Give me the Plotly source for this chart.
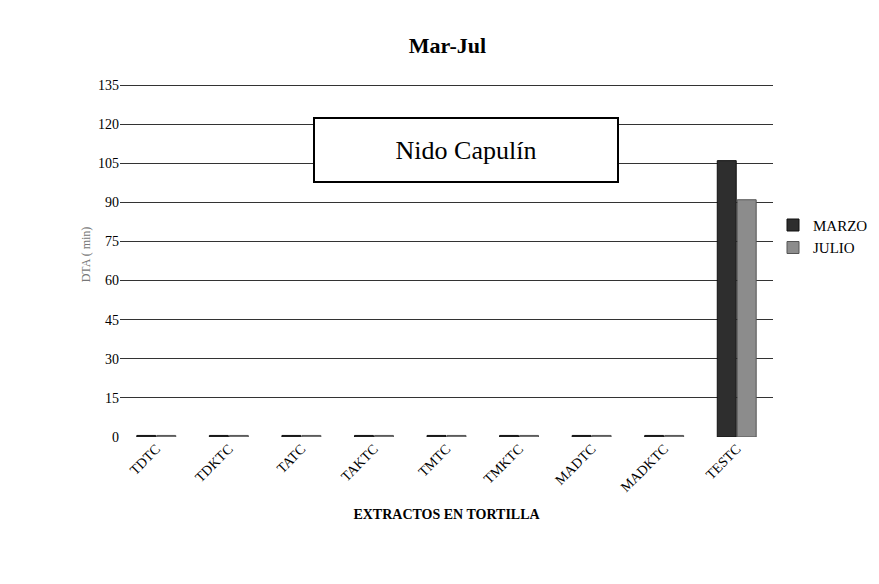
import plotly.graph_objects as go

categories = ["TDTC","TDKTC","TATC","TAKTC","TMTC","TMKTC","MADTC","MADKTC","TESTC"]
marzo = [0.6,0.6,0.6,0.6,0.6,0.6,0.6,0.6,106]
julio = [0.6,0.6,0.6,0.6,0.6,0.6,0.6,0.6,91]
yticks = [0,15,30,45,60,75,90,105,120,135]

F = "Liberation Serif"
fig = go.Figure()
fig.add_bar(name="MARZO", x=categories, y=marzo, marker=dict(color="#2e2e2e", line=dict(color="#111", width=1)))
fig.add_bar(name="JULIO", x=categories, y=julio, marker=dict(color="#8c8c8c", line=dict(color="#555", width=1)))
fig.update_layout(
    width=879, height=584, paper_bgcolor="white", plot_bgcolor="white",
    margin=dict(l=112, r=114, t=64, b=155),
    barmode="group", bargap=0.45, bargroupgap=0.05,
    title=dict(text="<b>Mar-Jul</b>", x=0.5, xanchor="center", y=0.95, font=dict(family=F, size=22, color="black")),
    font=dict(family=F, size=14, color="black"),
    xaxis=dict(tickangle=-45, showline=False, ticks="", title=dict(text="<b>EXTRACTOS EN TORTILLA</b>", font=dict(size=14))),
    yaxis=dict(range=[0,140], tickvals=yticks, showgrid=True, gridcolor="#333", gridwidth=1, zeroline=False,
               showline=False, ticks="", ticksuffix="   ",
               title=dict(text="DTA ( min)", font=dict(size=12, color="#777"), standoff=4)),
    legend=dict(x=1.0, y=0.55, xanchor="left", yanchor="middle", font=dict(family=F, size=15), itemwidth=30),
)
fig.add_annotation(xref="paper", yref="paper", x=0.53, y=0.786, xanchor="center", yanchor="middle",
                   text="Nido Capulín", showarrow=False,
                   font=dict(family=F, size=26, color="black"), bordercolor="black", borderwidth=2,
                   bgcolor="white", width=300, height=60)
fig.write_html("out.html")
